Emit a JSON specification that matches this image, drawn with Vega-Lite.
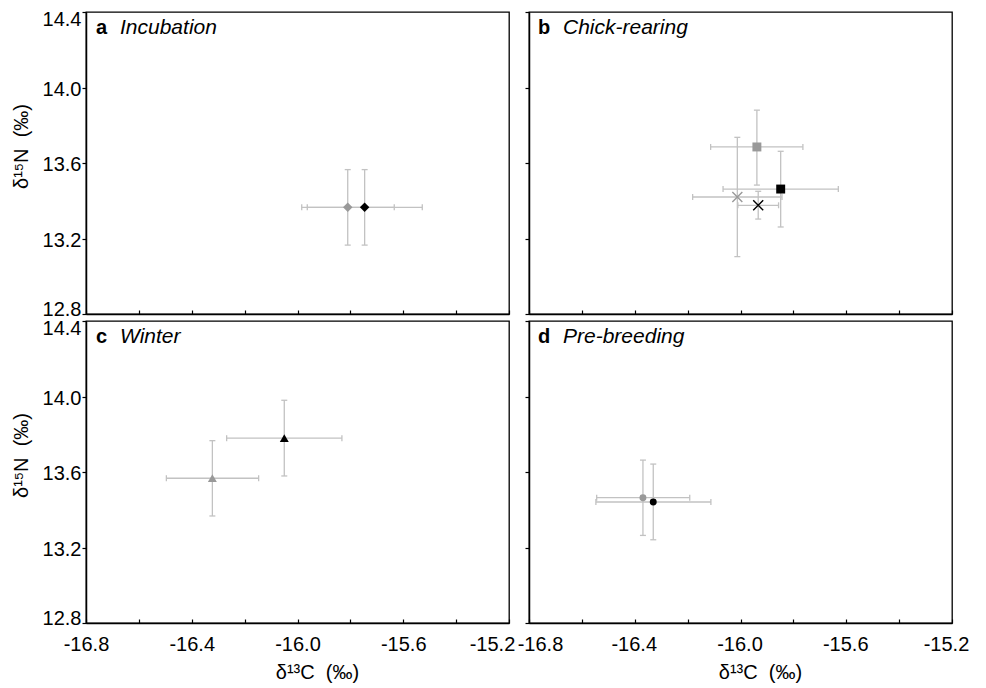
{
  "$schema": "https://vega.github.io/schema/vega-lite/v6.json",
  "padding": {"left": 10, "top": 8, "right": 5, "bottom": 2},
  "background": "white",
  "datasets": {
    "pts": [
      {"panel": "a", "series": "1", "marker": "incubation", "x": -15.81, "y": 13.365, "xlo": -15.984, "xhi": -15.634, "ylo": 13.165, "yhi": 13.565},
      {"panel": "a", "series": "2", "marker": "incubation", "x": -15.746, "y": 13.365, "xlo": -15.963, "xhi": -15.528, "ylo": 13.165, "yhi": 13.565},
      {"panel": "b", "series": "1", "marker": "chick-rearing A", "x": -15.938, "y": 13.685, "xlo": -16.113, "xhi": -15.764, "ylo": 13.483, "yhi": 13.88},
      {"panel": "b", "series": "2", "marker": "chick-rearing A", "x": -15.848, "y": 13.462, "xlo": -16.066, "xhi": -15.63, "ylo": 13.261, "yhi": 13.662},
      {"panel": "b", "series": "1", "marker": "chick-rearing B", "x": -16.012, "y": 13.42, "xlo": -16.181, "xhi": -15.843, "ylo": 13.104, "yhi": 13.736},
      {"panel": "b", "series": "2", "marker": "chick-rearing B", "x": -15.933, "y": 13.376, "xlo": -16.01, "xhi": -15.856, "ylo": 13.303, "yhi": 13.45},
      {"panel": "c", "series": "1", "marker": "winter", "x": -16.322, "y": 13.567, "xlo": -16.496, "xhi": -16.147, "ylo": 13.367, "yhi": 13.766},
      {"panel": "c", "series": "2", "marker": "winter", "x": -16.05, "y": 13.779, "xlo": -16.268, "xhi": -15.832, "ylo": 13.579, "yhi": 13.98},
      {"panel": "d", "series": "1", "marker": "pre-breeding", "x": -16.369, "y": 13.464, "xlo": -16.544, "xhi": -16.192, "ylo": 13.264, "yhi": 13.663},
      {"panel": "d", "series": "2", "marker": "pre-breeding", "x": -16.33, "y": 13.441, "xlo": -16.547, "xhi": -16.112, "ylo": 13.241, "yhi": 13.642}
    ]
  },
  "columns": 2,
  "spacing": {"row": 7, "column": 20},
  "bounds": "flush",
  "concat": [
    {
      "width": 423, "height": 302,
      "data": {"name": "pts"},
      "transform": [{"filter": "datum.panel === 'a'"}],
      "layer": [
        {"mark": {"type": "rule", "color": "#c2c2c2", "strokeWidth": 1.3},
         "encoding": {
           "x": {"field": "xlo", "type": "quantitative", "scale": {"domain": [-16.8, -15.2], "nice": false, "zero": false},
                 "axis": {"title": null, "labels": false, "values": [-16.8, -16.6, -16.4, -16.2, -16, -15.8, -15.6, -15.4, -15.2], "tickSize": -4}},
           "x2": {"field": "xhi"},
           "y": {"field": "y", "type": "quantitative", "scale": {"domain": [12.8, 14.4], "nice": false, "zero": false},
                 "axis": {"title": "δ¹⁵N\u00a0\u00a0(‰)", "values": [12.8, 13, 13.2, 13.4, 13.6, 13.8, 14, 14.2, 14.4],
                          "labelExpr": "abs((datum.value-12.8)/0.4-round((datum.value-12.8)/0.4))<0.01 ? format(datum.value,'.1f') : ''",
                          "tickSize": {"condition": {"test": "abs((datum.value-12.8)/0.4-round((datum.value-12.8)/0.4))<0.01", "value": 4}, "value": -4},
                          "labelPadding": 1,
                          "labelOffset": {"condition": [{"test": "datum.value > 14.35", "value": 7}, {"test": "datum.value < 12.85", "value": -5}], "value": 1.5},
                          "titleX": -55, "titleY": 134}}
         }},
        {"mark": {"type": "rule", "color": "#c2c2c2", "strokeWidth": 1.3},
         "encoding": {
           "x": {"field": "x", "type": "quantitative", "scale": {"domain": [-16.8, -15.2], "nice": false, "zero": false}},
           "y": {"field": "ylo", "type": "quantitative", "scale": {"domain": [12.8, 14.4], "nice": false, "zero": false}},
           "y2": {"field": "yhi"}
         }},
        {"mark": {"type": "tick", "orient": "vertical", "color": "#c2c2c2", "size": 6, "thickness": 1.3, "opacity": 1},
         "encoding": {
           "x": {"field": "xlo", "type": "quantitative", "scale": {"domain": [-16.8, -15.2], "nice": false, "zero": false}},
           "y": {"field": "y", "type": "quantitative", "scale": {"domain": [12.8, 14.4], "nice": false, "zero": false}}
         }},
        {"mark": {"type": "tick", "orient": "vertical", "color": "#c2c2c2", "size": 6, "thickness": 1.3, "opacity": 1},
         "encoding": {
           "x": {"field": "xhi", "type": "quantitative", "scale": {"domain": [-16.8, -15.2], "nice": false, "zero": false}},
           "y": {"field": "y", "type": "quantitative", "scale": {"domain": [12.8, 14.4], "nice": false, "zero": false}}
         }},
        {"mark": {"type": "tick", "orient": "horizontal", "color": "#c2c2c2", "size": 6, "thickness": 1.3, "opacity": 1},
         "encoding": {
           "x": {"field": "x", "type": "quantitative", "scale": {"domain": [-16.8, -15.2], "nice": false, "zero": false}},
           "y": {"field": "ylo", "type": "quantitative", "scale": {"domain": [12.8, 14.4], "nice": false, "zero": false}}
         }},
        {"mark": {"type": "tick", "orient": "horizontal", "color": "#c2c2c2", "size": 6, "thickness": 1.3, "opacity": 1},
         "encoding": {
           "x": {"field": "x", "type": "quantitative", "scale": {"domain": [-16.8, -15.2], "nice": false, "zero": false}},
           "y": {"field": "yhi", "type": "quantitative", "scale": {"domain": [12.8, 14.4], "nice": false, "zero": false}}
         }},
        {"mark": {"type": "point", "shape": "diamond", "filled": true, "size": 90, "opacity": 1},
         "encoding": {
           "x": {"field": "x", "type": "quantitative", "scale": {"domain": [-16.8, -15.2], "nice": false, "zero": false}},
           "y": {"field": "y", "type": "quantitative", "scale": {"domain": [12.8, 14.4], "nice": false, "zero": false}},
           "color": {"field": "series", "type": "nominal", "scale": {"domain": ["1", "2"], "range": ["#999999", "#000000"]}, "legend": null}
         }},
        {"data": {"values": [{"letter": "a", "name": "Incubation"}]},
         "mark": {"type": "text", "align": "left", "baseline": "alphabetic", "dx": 10, "dy": 22, "fontSize": 20, "fontWeight": "bold", "font": "Liberation Sans", "color": "#000"},
         "encoding": {
           "x": {"datum": -16.8, "type": "quantitative", "scale": {"domain": [-16.8, -15.2], "nice": false, "zero": false}},
           "y": {"datum": 14.4, "type": "quantitative", "scale": {"domain": [12.8, 14.4], "nice": false, "zero": false}},
           "text": {"field": "letter"}
         }},
        {"data": {"values": [{"letter": "a", "name": "Incubation"}]},
         "mark": {"type": "text", "align": "left", "baseline": "alphabetic", "dx": 34, "dy": 22, "fontSize": 21, "fontStyle": "italic", "font": "Liberation Sans", "color": "#000"},
         "encoding": {
           "x": {"datum": -16.8, "type": "quantitative", "scale": {"domain": [-16.8, -15.2], "nice": false, "zero": false}},
           "y": {"datum": 14.4, "type": "quantitative", "scale": {"domain": [12.8, 14.4], "nice": false, "zero": false}},
           "text": {"field": "name"}
         }}
      ]
    },
    {
      "width": 423, "height": 302,
      "data": {"name": "pts"},
      "transform": [{"filter": "datum.panel === 'b'"}],
      "layer": [
        {"mark": {"type": "rule", "color": "#c2c2c2", "strokeWidth": 1.3},
         "encoding": {
           "x": {"field": "xlo", "type": "quantitative", "scale": {"domain": [-16.8, -15.2], "nice": false, "zero": false},
                 "axis": {"title": null, "labels": false, "values": [-16.8, -16.6, -16.4, -16.2, -16, -15.8, -15.6, -15.4, -15.2], "tickSize": -4}},
           "x2": {"field": "xhi"},
           "y": {"field": "y", "type": "quantitative", "scale": {"domain": [12.8, 14.4], "nice": false, "zero": false},
                 "axis": {"title": null, "labels": false, "values": [12.8, 13, 13.2, 13.4, 13.6, 13.8, 14, 14.2, 14.4],
                          "tickSize": {"condition": {"test": "abs((datum.value-12.8)/0.4-round((datum.value-12.8)/0.4))<0.01", "value": 4}, "value": -4}}}
         }},
        {"mark": {"type": "rule", "color": "#c2c2c2", "strokeWidth": 1.3},
         "encoding": {
           "x": {"field": "x", "type": "quantitative", "scale": {"domain": [-16.8, -15.2], "nice": false, "zero": false}},
           "y": {"field": "ylo", "type": "quantitative", "scale": {"domain": [12.8, 14.4], "nice": false, "zero": false}},
           "y2": {"field": "yhi"}
         }},
        {"mark": {"type": "tick", "orient": "vertical", "color": "#c2c2c2", "size": 6, "thickness": 1.3, "opacity": 1},
         "encoding": {
           "x": {"field": "xlo", "type": "quantitative", "scale": {"domain": [-16.8, -15.2], "nice": false, "zero": false}},
           "y": {"field": "y", "type": "quantitative", "scale": {"domain": [12.8, 14.4], "nice": false, "zero": false}}
         }},
        {"mark": {"type": "tick", "orient": "vertical", "color": "#c2c2c2", "size": 6, "thickness": 1.3, "opacity": 1},
         "encoding": {
           "x": {"field": "xhi", "type": "quantitative", "scale": {"domain": [-16.8, -15.2], "nice": false, "zero": false}},
           "y": {"field": "y", "type": "quantitative", "scale": {"domain": [12.8, 14.4], "nice": false, "zero": false}}
         }},
        {"mark": {"type": "tick", "orient": "horizontal", "color": "#c2c2c2", "size": 6, "thickness": 1.3, "opacity": 1},
         "encoding": {
           "x": {"field": "x", "type": "quantitative", "scale": {"domain": [-16.8, -15.2], "nice": false, "zero": false}},
           "y": {"field": "ylo", "type": "quantitative", "scale": {"domain": [12.8, 14.4], "nice": false, "zero": false}}
         }},
        {"mark": {"type": "tick", "orient": "horizontal", "color": "#c2c2c2", "size": 6, "thickness": 1.3, "opacity": 1},
         "encoding": {
           "x": {"field": "x", "type": "quantitative", "scale": {"domain": [-16.8, -15.2], "nice": false, "zero": false}},
           "y": {"field": "yhi", "type": "quantitative", "scale": {"domain": [12.8, 14.4], "nice": false, "zero": false}}
         }},
        {"transform": [{"filter": "datum.marker === 'chick-rearing A'"}],
         "mark": {"type": "point", "shape": "square", "filled": true, "size": 80, "opacity": 1},
         "encoding": {
           "x": {"field": "x", "type": "quantitative", "scale": {"domain": [-16.8, -15.2], "nice": false, "zero": false}},
           "y": {"field": "y", "type": "quantitative", "scale": {"domain": [12.8, 14.4], "nice": false, "zero": false}},
           "color": {"field": "series", "type": "nominal", "scale": {"domain": ["1", "2"], "range": ["#999999", "#000000"]}, "legend": null}
         }},
        {"transform": [{"filter": "datum.marker === 'chick-rearing B'"}],
         "mark": {"type": "point", "shape": "M-1,-1L1,1M-1,1L1,-1", "filled": false, "size": 100, "strokeWidth": 1.4, "opacity": 1},
         "encoding": {
           "x": {"field": "x", "type": "quantitative", "scale": {"domain": [-16.8, -15.2], "nice": false, "zero": false}},
           "y": {"field": "y", "type": "quantitative", "scale": {"domain": [12.8, 14.4], "nice": false, "zero": false}},
           "color": {"field": "series", "type": "nominal", "scale": {"domain": ["1", "2"], "range": ["#999999", "#000000"]}, "legend": null}
         }},
        {"data": {"values": [{"letter": "b", "name": "Chick-rearing"}]},
         "mark": {"type": "text", "align": "left", "baseline": "alphabetic", "dx": 9, "dy": 22, "fontSize": 20, "fontWeight": "bold", "font": "Liberation Sans", "color": "#000"},
         "encoding": {
           "x": {"datum": -16.8, "type": "quantitative", "scale": {"domain": [-16.8, -15.2], "nice": false, "zero": false}},
           "y": {"datum": 14.4, "type": "quantitative", "scale": {"domain": [12.8, 14.4], "nice": false, "zero": false}},
           "text": {"field": "letter"}
         }},
        {"data": {"values": [{"letter": "b", "name": "Chick-rearing"}]},
         "mark": {"type": "text", "align": "left", "baseline": "alphabetic", "dx": 34, "dy": 22, "fontSize": 21, "fontStyle": "italic", "font": "Liberation Sans", "color": "#000"},
         "encoding": {
           "x": {"datum": -16.8, "type": "quantitative", "scale": {"domain": [-16.8, -15.2], "nice": false, "zero": false}},
           "y": {"datum": 14.4, "type": "quantitative", "scale": {"domain": [12.8, 14.4], "nice": false, "zero": false}},
           "text": {"field": "name"}
         }}
      ]
    },
    {
      "width": 423, "height": 302,
      "data": {"name": "pts"},
      "transform": [{"filter": "datum.panel === 'c'"}],
      "layer": [
        {"mark": {"type": "rule", "color": "#c2c2c2", "strokeWidth": 1.3},
         "encoding": {
           "x": {"field": "xlo", "type": "quantitative", "scale": {"domain": [-16.8, -15.2], "nice": false, "zero": false},
                 "axis": {"title": "δ¹³C\u00a0\u00a0(‰)", "values": [-16.8, -16.6, -16.4, -16.2, -16, -15.8, -15.6, -15.4, -15.2],
                          "labelExpr": "abs((datum.value+16.8)/0.4-round((datum.value+16.8)/0.4))<0.01 ? replace(format(datum.value,'.1f'),'\u2212','-') : ''",
                          "labelOffset": {"condition": {"test": "datum.value > -15.25", "value": -17}, "value": 0},
                          "tickSize": -4, "labelPadding": 15, "titleX": 231, "titleY": 39}},
           "x2": {"field": "xhi"},
           "y": {"field": "y", "type": "quantitative", "scale": {"domain": [12.8, 14.4], "nice": false, "zero": false},
                 "axis": {"title": "δ¹⁵N\u00a0\u00a0(‰)", "values": [12.8, 13, 13.2, 13.4, 13.6, 13.8, 14, 14.2, 14.4],
                          "labelExpr": "abs((datum.value-12.8)/0.4-round((datum.value-12.8)/0.4))<0.01 ? format(datum.value,'.1f') : ''",
                          "tickSize": {"condition": {"test": "abs((datum.value-12.8)/0.4-round((datum.value-12.8)/0.4))<0.01", "value": 4}, "value": -4},
                          "labelPadding": 1,
                          "labelOffset": {"condition": [{"test": "datum.value > 14.35", "value": 7}, {"test": "datum.value < 12.85", "value": -5}], "value": 1.5},
                          "titleX": -55, "titleY": 134}}
         }},
        {"mark": {"type": "rule", "color": "#c2c2c2", "strokeWidth": 1.3},
         "encoding": {
           "x": {"field": "x", "type": "quantitative", "scale": {"domain": [-16.8, -15.2], "nice": false, "zero": false}},
           "y": {"field": "ylo", "type": "quantitative", "scale": {"domain": [12.8, 14.4], "nice": false, "zero": false}},
           "y2": {"field": "yhi"}
         }},
        {"mark": {"type": "tick", "orient": "vertical", "color": "#c2c2c2", "size": 6, "thickness": 1.3, "opacity": 1},
         "encoding": {
           "x": {"field": "xlo", "type": "quantitative", "scale": {"domain": [-16.8, -15.2], "nice": false, "zero": false}},
           "y": {"field": "y", "type": "quantitative", "scale": {"domain": [12.8, 14.4], "nice": false, "zero": false}}
         }},
        {"mark": {"type": "tick", "orient": "vertical", "color": "#c2c2c2", "size": 6, "thickness": 1.3, "opacity": 1},
         "encoding": {
           "x": {"field": "xhi", "type": "quantitative", "scale": {"domain": [-16.8, -15.2], "nice": false, "zero": false}},
           "y": {"field": "y", "type": "quantitative", "scale": {"domain": [12.8, 14.4], "nice": false, "zero": false}}
         }},
        {"mark": {"type": "tick", "orient": "horizontal", "color": "#c2c2c2", "size": 6, "thickness": 1.3, "opacity": 1},
         "encoding": {
           "x": {"field": "x", "type": "quantitative", "scale": {"domain": [-16.8, -15.2], "nice": false, "zero": false}},
           "y": {"field": "ylo", "type": "quantitative", "scale": {"domain": [12.8, 14.4], "nice": false, "zero": false}}
         }},
        {"mark": {"type": "tick", "orient": "horizontal", "color": "#c2c2c2", "size": 6, "thickness": 1.3, "opacity": 1},
         "encoding": {
           "x": {"field": "x", "type": "quantitative", "scale": {"domain": [-16.8, -15.2], "nice": false, "zero": false}},
           "y": {"field": "yhi", "type": "quantitative", "scale": {"domain": [12.8, 14.4], "nice": false, "zero": false}}
         }},
        {"mark": {"type": "point", "shape": "triangle-up", "filled": true, "size": 80, "opacity": 1},
         "encoding": {
           "x": {"field": "x", "type": "quantitative", "scale": {"domain": [-16.8, -15.2], "nice": false, "zero": false}},
           "y": {"field": "y", "type": "quantitative", "scale": {"domain": [12.8, 14.4], "nice": false, "zero": false}},
           "color": {"field": "series", "type": "nominal", "scale": {"domain": ["1", "2"], "range": ["#999999", "#000000"]}, "legend": null}
         }},
        {"data": {"values": [{"letter": "c", "name": "Winter"}]},
         "mark": {"type": "text", "align": "left", "baseline": "alphabetic", "dx": 10, "dy": 22, "fontSize": 20, "fontWeight": "bold", "font": "Liberation Sans", "color": "#000"},
         "encoding": {
           "x": {"datum": -16.8, "type": "quantitative", "scale": {"domain": [-16.8, -15.2], "nice": false, "zero": false}},
           "y": {"datum": 14.4, "type": "quantitative", "scale": {"domain": [12.8, 14.4], "nice": false, "zero": false}},
           "text": {"field": "letter"}
         }},
        {"data": {"values": [{"letter": "c", "name": "Winter"}]},
         "mark": {"type": "text", "align": "left", "baseline": "alphabetic", "dx": 34, "dy": 22, "fontSize": 21, "fontStyle": "italic", "font": "Liberation Sans", "color": "#000"},
         "encoding": {
           "x": {"datum": -16.8, "type": "quantitative", "scale": {"domain": [-16.8, -15.2], "nice": false, "zero": false}},
           "y": {"datum": 14.4, "type": "quantitative", "scale": {"domain": [12.8, 14.4], "nice": false, "zero": false}},
           "text": {"field": "name"}
         }}
      ]
    },
    {
      "width": 423, "height": 302,
      "data": {"name": "pts"},
      "transform": [{"filter": "datum.panel === 'd'"}],
      "layer": [
        {"mark": {"type": "rule", "color": "#c2c2c2", "strokeWidth": 1.3},
         "encoding": {
           "x": {"field": "xlo", "type": "quantitative", "scale": {"domain": [-16.8, -15.2], "nice": false, "zero": false},
                 "axis": {"title": "δ¹³C\u00a0\u00a0(‰)", "values": [-16.8, -16.6, -16.4, -16.2, -16, -15.8, -15.6, -15.4, -15.2],
                          "labelExpr": "abs((datum.value+16.8)/0.4-round((datum.value+16.8)/0.4))<0.01 ? replace(format(datum.value,'.1f'),'\u2212','-') : ''",
                          "labelOffset": {"condition": [{"test": "datum.value < -16.75", "value": 11}, {"test": "datum.value > -15.25", "value": -6}], "value": -1},
                          "tickSize": -4, "labelPadding": 15, "titleX": 231, "titleY": 39}},
           "x2": {"field": "xhi"},
           "y": {"field": "y", "type": "quantitative", "scale": {"domain": [12.8, 14.4], "nice": false, "zero": false},
                 "axis": {"title": null, "labels": false, "values": [12.8, 13, 13.2, 13.4, 13.6, 13.8, 14, 14.2, 14.4],
                          "tickSize": {"condition": {"test": "abs((datum.value-12.8)/0.4-round((datum.value-12.8)/0.4))<0.01", "value": 4}, "value": -4}}}
         }},
        {"mark": {"type": "rule", "color": "#c2c2c2", "strokeWidth": 1.3},
         "encoding": {
           "x": {"field": "x", "type": "quantitative", "scale": {"domain": [-16.8, -15.2], "nice": false, "zero": false}},
           "y": {"field": "ylo", "type": "quantitative", "scale": {"domain": [12.8, 14.4], "nice": false, "zero": false}},
           "y2": {"field": "yhi"}
         }},
        {"mark": {"type": "tick", "orient": "vertical", "color": "#c2c2c2", "size": 6, "thickness": 1.3, "opacity": 1},
         "encoding": {
           "x": {"field": "xlo", "type": "quantitative", "scale": {"domain": [-16.8, -15.2], "nice": false, "zero": false}},
           "y": {"field": "y", "type": "quantitative", "scale": {"domain": [12.8, 14.4], "nice": false, "zero": false}}
         }},
        {"mark": {"type": "tick", "orient": "vertical", "color": "#c2c2c2", "size": 6, "thickness": 1.3, "opacity": 1},
         "encoding": {
           "x": {"field": "xhi", "type": "quantitative", "scale": {"domain": [-16.8, -15.2], "nice": false, "zero": false}},
           "y": {"field": "y", "type": "quantitative", "scale": {"domain": [12.8, 14.4], "nice": false, "zero": false}}
         }},
        {"mark": {"type": "tick", "orient": "horizontal", "color": "#c2c2c2", "size": 6, "thickness": 1.3, "opacity": 1},
         "encoding": {
           "x": {"field": "x", "type": "quantitative", "scale": {"domain": [-16.8, -15.2], "nice": false, "zero": false}},
           "y": {"field": "ylo", "type": "quantitative", "scale": {"domain": [12.8, 14.4], "nice": false, "zero": false}}
         }},
        {"mark": {"type": "tick", "orient": "horizontal", "color": "#c2c2c2", "size": 6, "thickness": 1.3, "opacity": 1},
         "encoding": {
           "x": {"field": "x", "type": "quantitative", "scale": {"domain": [-16.8, -15.2], "nice": false, "zero": false}},
           "y": {"field": "yhi", "type": "quantitative", "scale": {"domain": [12.8, 14.4], "nice": false, "zero": false}}
         }},
        {"mark": {"type": "point", "shape": "circle", "filled": true, "size": 48, "opacity": 1},
         "encoding": {
           "x": {"field": "x", "type": "quantitative", "scale": {"domain": [-16.8, -15.2], "nice": false, "zero": false}},
           "y": {"field": "y", "type": "quantitative", "scale": {"domain": [12.8, 14.4], "nice": false, "zero": false}},
           "color": {"field": "series", "type": "nominal", "scale": {"domain": ["1", "2"], "range": ["#999999", "#000000"]}, "legend": null}
         }},
        {"data": {"values": [{"letter": "d", "name": "Pre-breeding"}]},
         "mark": {"type": "text", "align": "left", "baseline": "alphabetic", "dx": 9, "dy": 22, "fontSize": 20, "fontWeight": "bold", "font": "Liberation Sans", "color": "#000"},
         "encoding": {
           "x": {"datum": -16.8, "type": "quantitative", "scale": {"domain": [-16.8, -15.2], "nice": false, "zero": false}},
           "y": {"datum": 14.4, "type": "quantitative", "scale": {"domain": [12.8, 14.4], "nice": false, "zero": false}},
           "text": {"field": "letter"}
         }},
        {"data": {"values": [{"letter": "d", "name": "Pre-breeding"}]},
         "mark": {"type": "text", "align": "left", "baseline": "alphabetic", "dx": 34, "dy": 22, "fontSize": 21, "fontStyle": "italic", "font": "Liberation Sans", "color": "#000"},
         "encoding": {
           "x": {"datum": -16.8, "type": "quantitative", "scale": {"domain": [-16.8, -15.2], "nice": false, "zero": false}},
           "y": {"datum": 14.4, "type": "quantitative", "scale": {"domain": [12.8, 14.4], "nice": false, "zero": false}},
           "text": {"field": "name"}
         }}
      ]
    }
  ],
  "config": {
    "view": {"stroke": "#000000", "strokeWidth": 1.3},
    "axis": {
      "grid": false,
      "domainColor": "#000000", "domainWidth": 1.5,
      "tickColor": "#000000", "tickWidth": 1.2,
      "labelFont": "Liberation Sans", "labelFontSize": 20, "labelColor": "#000000",
      "labelFlush": false, "labelOverlap": false, "labelBound": false,
      "titleFont": "Liberation Sans", "titleFontSize": 20, "titleFontWeight": "normal", "titleColor": "#000000"
    }
  }
}
